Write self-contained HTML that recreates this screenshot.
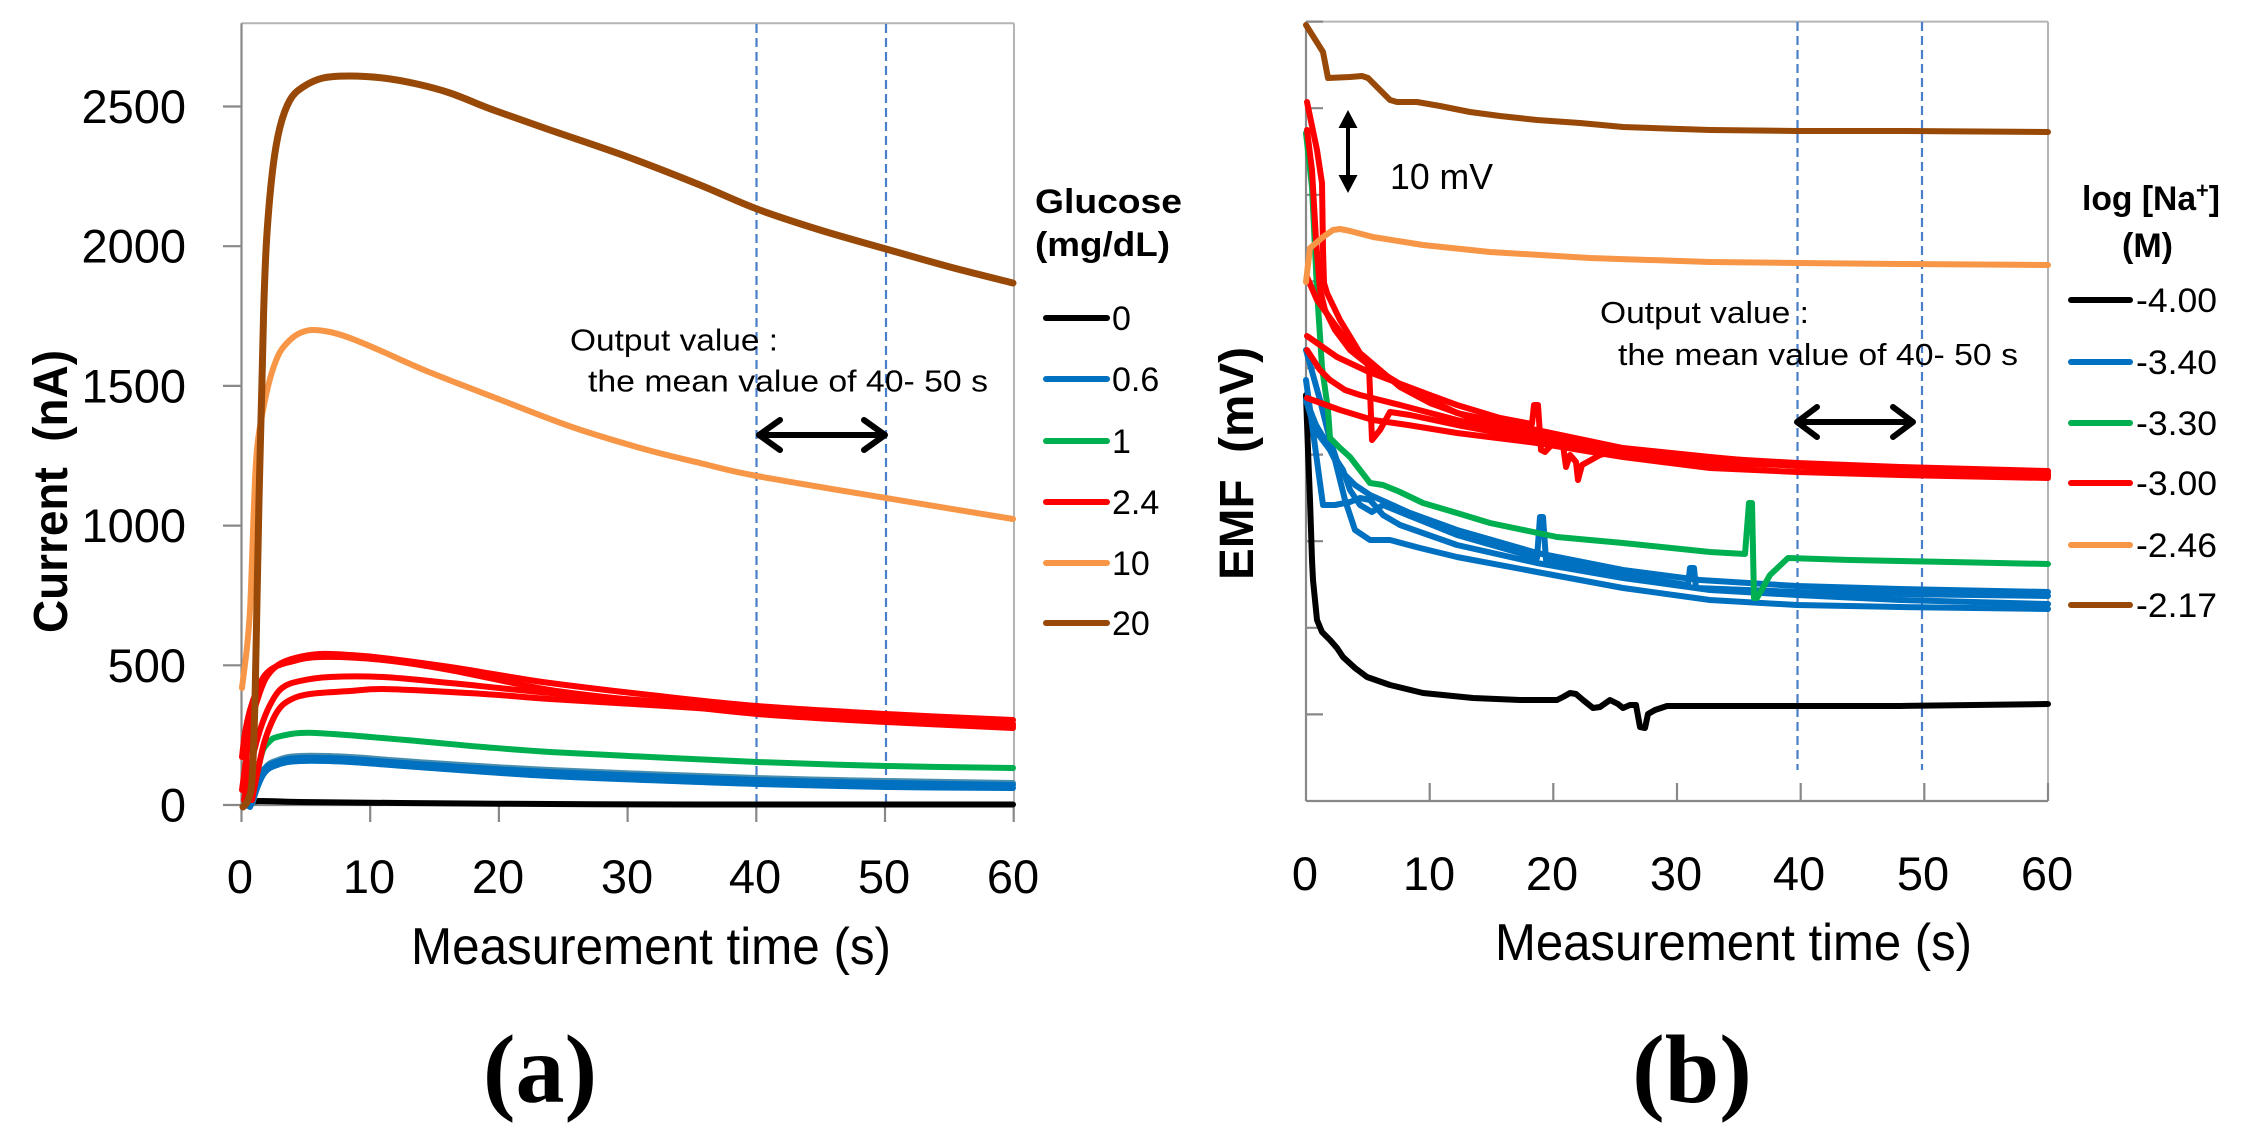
<!DOCTYPE html>
<html>
<head>
<meta charset="utf-8">
<style>
html,body{margin:0;padding:0;background:#fff;}
svg{display:block;}
text{font-family:"Liberation Sans",Arial,sans-serif;fill:#000;}
.ser{fill:none;stroke-linejoin:round;stroke-linecap:round;}
</style>
</head>
<body>
<svg id="chart" width="2245" height="1144" viewBox="0 0 2245 1144" xmlns="http://www.w3.org/2000/svg">
<rect x="0" y="0" width="2245" height="1144" fill="#fff"/>

<!-- ================= LEFT CHART (a) ================= -->
<line x1="241.5" y1="23.3" x2="1014" y2="23.3" stroke="#b4b4b4" stroke-width="2"/>
<line x1="1014" y1="23.3" x2="1014" y2="805" stroke="#b4b4b4" stroke-width="2"/>
<line x1="241.5" y1="23.3" x2="241.5" y2="805" stroke="#888" stroke-width="2.2"/>
<line x1="241.5" y1="805" x2="1014" y2="805" stroke="#888" stroke-width="2.2"/>
<g stroke="#888" stroke-width="2.2">
<line x1="223" y1="805" x2="241.5" y2="805"/>
<line x1="223" y1="665.3" x2="241.5" y2="665.3"/>
<line x1="223" y1="525.6" x2="241.5" y2="525.6"/>
<line x1="223" y1="385.9" x2="241.5" y2="385.9"/>
<line x1="223" y1="246.2" x2="241.5" y2="246.2"/>
<line x1="223" y1="106.5" x2="241.5" y2="106.5"/>
<line x1="241.5" y1="805" x2="241.5" y2="822"/>
<line x1="370.2" y1="805" x2="370.2" y2="822"/>
<line x1="498.9" y1="805" x2="498.9" y2="822"/>
<line x1="627.6" y1="805" x2="627.6" y2="822"/>
<line x1="756.3" y1="805" x2="756.3" y2="822"/>
<line x1="885" y1="805" x2="885" y2="822"/>
<line x1="1013.7" y1="805" x2="1013.7" y2="822"/>
</g>
<g font-size="47" text-anchor="end">
<text x="186" y="821.5">0</text>
<text x="186" y="681.8">500</text>
<text x="186" y="542.1">1000</text>
<text x="186" y="402.4">1500</text>
<text x="186" y="262.7">2000</text>
<text x="186" y="123">2500</text>
</g>
<g font-size="47" text-anchor="middle">
<text x="240" y="893">0</text>
<text x="369" y="893">10</text>
<text x="498" y="893">20</text>
<text x="627" y="893">30</text>
<text x="755" y="893">40</text>
<text x="884" y="893">50</text>
<text x="1013" y="893">60</text>
</g>
<text x="411" y="964" font-size="52" textLength="480" lengthAdjust="spacingAndGlyphs">Measurement time (s)</text>
<text transform="translate(67,633) rotate(-90)" font-size="48" font-weight="bold" textLength="283" lengthAdjust="spacingAndGlyphs" xml:space="preserve">Current  (nA)</text>

<g stroke="#4a7ec8" stroke-width="2.2" stroke-dasharray="9 5">
<line x1="756.5" y1="24" x2="756.5" y2="804"/>
<line x1="886" y1="24" x2="886" y2="804"/>
</g>

<polyline class="ser sm" stroke="#000" stroke-width="6" points="245,803 260,801 300,802 400,803 550,804 700,804.5 1013,804.5"/>
<polyline class="ser sm" stroke="#4a8eae" stroke-width="6" points="252,804 264,770 278,760 300,756 350,757 417,762 550,770 757,778 886,781 1013,783"/>
<polyline class="ser sm" stroke="#0070C0" stroke-width="6" points="248,806 262,772 277,762 300,758 350,759 417,764 550,772 757,780 886,783 1013,785"/>
<polyline class="ser sm" stroke="#0070C0" stroke-width="6" points="250,807 263,775 277,765 300,761 350,762 417,767 550,776 700,782 757,784 886,787 1013,788"/>
<polyline class="ser sm" stroke="#00B050" stroke-width="6" points="253,795 258,770 263,750 270,741 277,737 300,733 333,734 417,741 483,747 550,752 650,757 757,762 886,766 1013,768"/>
<polyline class="ser sm" stroke="#FF0000" stroke-width="6" points="242,790 246,760 252,720 258,698 266,678 278,665 295,658 320,654 350,655 383,658 450,667 499,675 550,683 650,695 757,706 886,714 1013,720"/>
<polyline class="ser sm" stroke="#FF0000" stroke-width="6" points="244,800 252,760 260,730 270,705 282,688 300,681 330,677 383,677 450,683 499,688 550,693 650,701 757,710 886,718 1013,724"/>
<polyline class="ser sm" stroke="#FF0000" stroke-width="6" points="252,800 258,770 265,740 277,712 290,700 310,694 350,691 383,689 450,692 499,695 550,699 650,705 757,712 886,720 1013,726"/>
<polyline class="ser sm" stroke="#FF0000" stroke-width="6" points="242,757 245,733 250,710 257,690 265,675 275,667 290,662 320,657 383,660 450,670 550,690 650,702 757,714 886,722 1013,728"/>
<polyline class="ser sm" stroke="#F79646" stroke-width="6" points="242,688 247,647 250,610 252,560 255,480 258,440 265,400 272,372 280,352 290,340 300,333 312,330 330,332 350,338 379,350 429,372 501,400 572,427 644,449 700,463 757,476 886,498 1013,519"/>
<polyline class="ser sm" stroke="#984807" stroke-width="7" points="243,807 248,800 252,780 255,700 257,600 259,500 262,380 264,300 267,233 273,167 280,127 290,100 303,87 323,78 350,76 383,78 417,84 450,93 483,106 499,112 550,130 628,157 700,185 757,209 820,230 886,249 950,267 1013,283"/>

<text x="570" y="350.5" font-size="31" textLength="208" lengthAdjust="spacingAndGlyphs">Output value :</text>
<text x="588" y="391.5" font-size="31" textLength="400" lengthAdjust="spacingAndGlyphs">the mean value of 40- 50 s</text>
<g stroke="#000" stroke-width="6" fill="none" stroke-linecap="round" stroke-linejoin="round">
<line x1="760" y1="435" x2="884" y2="435"/>
<polyline points="780,420 759,435 780,450"/>
<polyline points="864,420 885,435 864,450"/>
</g>

<text x="1035" y="213" font-size="34" font-weight="bold" textLength="147" lengthAdjust="spacingAndGlyphs">Glucose</text>
<text x="1035" y="256" font-size="34" font-weight="bold" textLength="135" lengthAdjust="spacingAndGlyphs">(mg/dL)</text>
<g stroke-width="6" stroke-linecap="round">
<line x1="1046" y1="318" x2="1107" y2="318" stroke="#000"/>
<line x1="1046" y1="379" x2="1107" y2="379" stroke="#0070C0"/>
<line x1="1046" y1="441" x2="1107" y2="441" stroke="#00B050"/>
<line x1="1046" y1="502" x2="1107" y2="502" stroke="#FF0000"/>
<line x1="1046" y1="563" x2="1107" y2="563" stroke="#F79646"/>
<line x1="1046" y1="623" x2="1107" y2="623" stroke="#984807"/>
</g>
<g font-size="34">
<text x="1112" y="330">0</text>
<text x="1112" y="391">0.6</text>
<text x="1112" y="453">1</text>
<text x="1112" y="514">2.4</text>
<text x="1112" y="575">10</text>
<text x="1112" y="635">20</text>
</g>

<text x="540" y="1102" font-size="98" font-weight="bold" text-anchor="middle" style="font-family:'Liberation Serif','Times New Roman',serif">(a)</text>

<!-- ================= RIGHT CHART (b) ================= -->
<line x1="1306" y1="21.6" x2="2048" y2="21.6" stroke="#b4b4b4" stroke-width="2"/>
<line x1="2048" y1="21.6" x2="2048" y2="801" stroke="#b4b4b4" stroke-width="2"/>
<line x1="1306" y1="21.6" x2="1306" y2="801" stroke="#888" stroke-width="2.2"/>
<line x1="1306" y1="801" x2="2048" y2="801" stroke="#888" stroke-width="2.2"/>
<g stroke="#888" stroke-width="2.2">
<line x1="1306" y1="21.6" x2="1323" y2="21.6"/>
<line x1="1306" y1="108.2" x2="1323" y2="108.2"/>
<line x1="1306" y1="194.8" x2="1323" y2="194.8"/>
<line x1="1306" y1="281.4" x2="1323" y2="281.4"/>
<line x1="1306" y1="368" x2="1323" y2="368"/>
<line x1="1306" y1="454.6" x2="1323" y2="454.6"/>
<line x1="1306" y1="541.2" x2="1323" y2="541.2"/>
<line x1="1306" y1="627.8" x2="1323" y2="627.8"/>
<line x1="1306" y1="714.4" x2="1323" y2="714.4"/>
<line x1="1429.7" y1="783" x2="1429.7" y2="801"/>
<line x1="1553.3" y1="783" x2="1553.3" y2="801"/>
<line x1="1677" y1="783" x2="1677" y2="801"/>
<line x1="1800.7" y1="783" x2="1800.7" y2="801"/>
<line x1="1924.3" y1="783" x2="1924.3" y2="801"/>
<line x1="2048" y1="783" x2="2048" y2="801"/>
</g>
<g font-size="47" text-anchor="middle">
<text x="1305" y="890">0</text>
<text x="1429" y="890">10</text>
<text x="1552" y="890">20</text>
<text x="1676" y="890">30</text>
<text x="1799" y="890">40</text>
<text x="1923" y="890">50</text>
<text x="2047" y="890">60</text>
</g>
<text x="1495" y="960" font-size="52" textLength="477" lengthAdjust="spacingAndGlyphs">Measurement time (s)</text>
<text transform="translate(1253,580) rotate(-90)" font-size="48" font-weight="bold" textLength="233" lengthAdjust="spacingAndGlyphs" xml:space="preserve">EMF  (mV)</text>

<g stroke="#4a7ec8" stroke-width="2.2" stroke-dasharray="9 5">
<line x1="1797.5" y1="22" x2="1797.5" y2="770"/>
<line x1="1922" y1="22" x2="1922" y2="770"/>
</g>

<polyline class="ser" stroke="#000" stroke-width="6" points="1306,395 1308,450 1310,500 1312,560 1313,580 1317,620 1322,632 1330,640 1337,648 1343,657 1355,668 1367,677 1390,685 1423,693 1473,698 1520,700 1557,700 1563,697 1570,693 1576,694 1583,700 1593,708 1600,707 1610,700 1618,704 1623,708 1630,705 1636,705 1640,727 1645,728 1648,714 1655,710 1667,706 1700,706 1797,706 1900,706 2048,704"/>
<polyline class="ser" stroke="#0070C0" stroke-width="6" points="1306,350 1320,400 1330,440 1340,470 1355,485 1370,495 1410,513 1457,530 1537,553 1623,570 1700,580 1797,586 1900,589 2048,592"/>
<polyline class="ser" stroke="#0070C0" stroke-width="6" points="1306,380 1323,505 1335,505 1350,502 1360,498 1370,500 1383,515 1400,525 1457,545 1537,563 1623,578 1710,590 1797,595 1900,600 2048,604"/>
<polyline class="ser" stroke="#0070C0" stroke-width="6" points="1306,400 1316,425 1325,440 1335,460 1345,500 1355,530 1370,540 1390,540 1420,548 1457,557 1537,572 1623,588 1710,600 1797,605 1900,607 2048,609"/>
<polyline class="ser" stroke="#0070C0" stroke-width="6" points="1306,400 1315,430 1330,450 1343,470 1350,490 1360,505 1372,512 1383,505 1400,512 1457,535 1537,558 1540,517 1543,517 1546,560 1623,575 1688,585 1690,568 1694,568 1696,588 1797,592 1900,594 2048,596"/>
<polyline class="ser" stroke="#00B050" stroke-width="6" points="1306,133 1312,187 1317,290 1322,367 1328,410 1330,438 1340,448 1350,457 1360,470 1370,483 1383,485 1400,492 1423,503 1457,513 1490,523 1557,537 1623,543 1710,552 1745,554 1749,503 1752,503 1754,598 1757,598 1770,575 1788,558 1850,560 1950,562 2048,564"/>
<polyline class="ser" stroke="#FF0000" stroke-width="6" points="1307,102 1317,150 1322,183 1323,250 1324,283 1327,293 1340,320 1360,353 1380,370 1400,387 1430,403 1477,420 1537,435 1623,450 1710,458 1797,463 1900,467 2048,471"/>
<polyline class="ser" stroke="#FF0000" stroke-width="6" points="1307,130 1312,170 1316,240 1320,290 1325,310 1335,330 1350,350 1365,362 1385,375 1410,390 1457,413 1537,430 1623,448 1710,457 1797,465 1900,470 2048,474"/>
<polyline class="ser" stroke="#FF0000" stroke-width="6" points="1307,277 1317,300 1330,318 1350,345 1365,361 1369,367 1372,440 1380,430 1390,412 1410,415 1457,425 1537,440 1623,452 1710,460 1797,466 1900,471 2048,475"/>
<polyline class="ser" stroke="#FF0000" stroke-width="6" points="1307,336 1337,357 1369,372 1390,380 1430,395 1457,405 1500,418 1532,424 1534,405 1538,405 1541,450 1545,452 1556,440 1563,445 1566,467 1570,455 1576,462 1578,480 1582,465 1600,455 1623,450 1710,458 1797,465 2048,476"/>
<polyline class="ser" stroke="#FF0000" stroke-width="6" points="1307,398 1340,410 1373,420 1408,425 1457,433 1537,443 1623,457 1710,468 1797,472 1900,475 2048,478"/>
<polyline class="ser" stroke="#FF0000" stroke-width="6" points="1307,350 1320,370 1330,380 1345,390 1360,395 1400,405 1457,420 1537,438 1623,455 1710,463 2048,472"/>
<polyline class="ser" stroke="#F79646" stroke-width="6" points="1306,282 1310,248 1316,243 1323,237 1333,230 1340,229 1350,231 1373,237 1423,245 1490,252 1590,258 1710,262 1797,263 1900,264 2048,265"/>
<polyline class="ser" stroke="#984807" stroke-width="6" points="1306,25 1323,52 1328,78 1350,77 1362,76 1368,78 1378,88 1390,100 1397,102 1417,102 1440,106 1470,112 1500,116 1537,120 1580,123 1623,127 1680,129 1710,130 1797,131 1900,131 2048,132"/>

<line x1="1348" y1="124" x2="1348" y2="179" stroke="#000" stroke-width="4"/>
<polygon points="1348,110 1357.5,128 1338.5,128" fill="#000"/>
<polygon points="1348,193 1357.5,175 1338.5,175" fill="#000"/>
<text x="1390" y="189" font-size="36" textLength="103" lengthAdjust="spacingAndGlyphs">10 mV</text>

<text x="1600" y="323" font-size="31" textLength="209" lengthAdjust="spacingAndGlyphs">Output value :</text>
<text x="1618" y="365" font-size="31" textLength="400" lengthAdjust="spacingAndGlyphs">the mean value of 40- 50 s</text>
<g stroke="#000" stroke-width="6" fill="none" stroke-linecap="round" stroke-linejoin="round">
<line x1="1798" y1="422" x2="1911" y2="422"/>
<polyline points="1817,407 1797,422 1817,437"/>
<polyline points="1893,407 1913,422 1893,437"/>
</g>

<text x="2082" y="210" font-size="34" font-weight="bold" textLength="138" lengthAdjust="spacingAndGlyphs">log [Na<tspan font-size="22" dy="-12">+</tspan><tspan dy="12">]</tspan></text>
<text x="2147.5" y="257" font-size="34" font-weight="bold" text-anchor="middle">(M)</text>
<g stroke-width="6" stroke-linecap="round">
<line x1="2071" y1="300" x2="2130" y2="300" stroke="#000"/>
<line x1="2071" y1="362" x2="2130" y2="362" stroke="#0070C0"/>
<line x1="2071" y1="423" x2="2130" y2="423" stroke="#00B050"/>
<line x1="2071" y1="483" x2="2130" y2="483" stroke="#FF0000"/>
<line x1="2071" y1="545" x2="2130" y2="545" stroke="#F79646"/>
<line x1="2071" y1="605" x2="2130" y2="605" stroke="#984807"/>
</g>
<g font-size="34">
<text x="2136" y="312" textLength="81" lengthAdjust="spacingAndGlyphs">-4.00</text>
<text x="2136" y="374" textLength="81" lengthAdjust="spacingAndGlyphs">-3.40</text>
<text x="2136" y="435" textLength="81" lengthAdjust="spacingAndGlyphs">-3.30</text>
<text x="2136" y="495" textLength="81" lengthAdjust="spacingAndGlyphs">-3.00</text>
<text x="2136" y="557" textLength="81" lengthAdjust="spacingAndGlyphs">-2.46</text>
<text x="2136" y="617" textLength="81" lengthAdjust="spacingAndGlyphs">-2.17</text>
</g>

<text x="1692" y="1102" font-size="98" font-weight="bold" text-anchor="middle" style="font-family:'Liberation Serif','Times New Roman',serif">(b)</text>
</svg>
<script>
(function(){
  var NS="http://www.w3.org/2000/svg";
  var pls=document.querySelectorAll("polyline.sm");
  for(var k=0;k<pls.length;k++){
    var pl=pls[k];
    var pts=pl.getAttribute("points").trim().split(/\s+/).map(function(p){return p.split(",").map(Number);});
    if(pts.length<3) continue;
    var d="M"+pts[0][0]+","+pts[0][1];
    for(var i=0;i<pts.length-1;i++){
      var p0=pts[i-1]||pts[i],p1=pts[i],p2=pts[i+1],p3=pts[i+2]||pts[i+1];
      var c1x=p1[0]+(p2[0]-p0[0])/6,c1y=p1[1]+(p2[1]-p0[1])/6;
      var c2x=p2[0]-(p3[0]-p1[0])/6,c2y=p2[1]-(p3[1]-p1[1])/6;
      d+=" C"+c1x.toFixed(1)+","+c1y.toFixed(1)+" "+c2x.toFixed(1)+","+c2y.toFixed(1)+" "+p2[0]+","+p2[1];
    }
    var path=document.createElementNS(NS,"path");
    path.setAttribute("d",d);
    path.setAttribute("class","ser");
    path.setAttribute("stroke",pl.getAttribute("stroke"));
    path.setAttribute("stroke-width",pl.getAttribute("stroke-width"));
    pl.parentNode.replaceChild(path,pl);
  }
})();
</script>
</body>
</html>
